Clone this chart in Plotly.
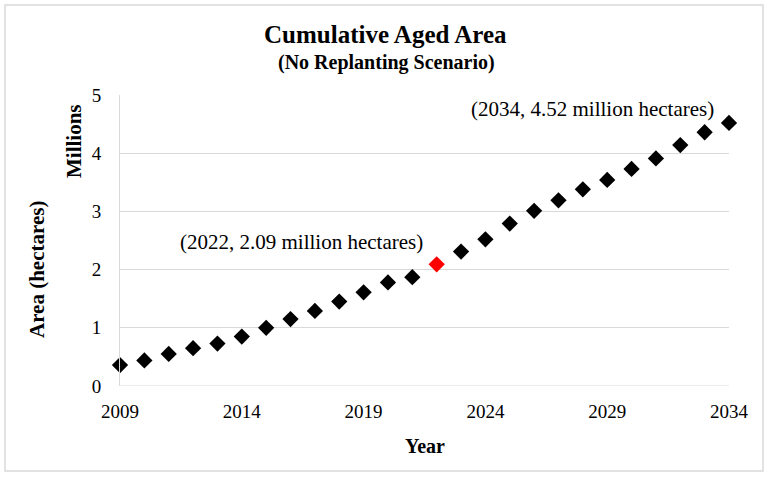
import plotly.graph_objects as go

years = list(range(2009, 2035))
area_millions = [0.36, 0.44, 0.55, 0.65, 0.73, 0.85, 1.00, 1.15, 1.29, 1.45, 1.61, 1.78, 1.87,
                 2.09, 2.31, 2.52, 2.79, 3.01, 3.19, 3.38, 3.54, 3.73, 3.91, 4.14, 4.36, 4.52]
highlight_year = 2022
x_ticks = [2009, 2014, 2019, 2024, 2029, 2034]
y_ticks = [0, 1, 2, 3, 4, 5]

FONT = "Palatino Linotype, Book Antiqua, Palatino, Liberation Serif, serif"
colors = ["#ff0000" if y == highlight_year else "#000000" for y in years]

W, H = 769, 478
L, R, T, B = 120, 40, 95, 92

fig = go.Figure()
fig.add_trace(go.Scatter(
    x=years, y=area_millions, mode="markers",
    marker=dict(symbol="diamond", size=12.5, color=colors, line=dict(width=0)),
    cliponaxis=False, showlegend=False,
))

pw = W - L - R
ph = H - T - B
def px(xp):
    return (xp - L) / pw
def py(yp):
    return (H - B - yp) / ph

fig.update_layout(
    width=W, height=H,
    margin=dict(l=L, r=R, t=T, b=B),
    plot_bgcolor="white", paper_bgcolor="white",
    font=dict(family=FONT, size=19, color="#000000"),
    xaxis=dict(range=[2009, 2034], tickvals=x_ticks, showgrid=False, zeroline=False,
               showline=False, ticks="", tickfont=dict(size=19), ticklabelstandoff=12),
    yaxis=dict(range=[0, 5], tickvals=y_ticks, showgrid=True, gridcolor="#d9d9d9", gridwidth=1,
               zeroline=False, showline=True, linecolor="#d9d9d9", linewidth=1,
               ticks="", tickfont=dict(size=19), ticklabelstandoff=14),
    shapes=[
        dict(type="line", xref="paper", yref="y", x0=0, x1=1, y0=0, y1=0,
             line=dict(color="#d9d9d9", width=1), layer="below"),
        dict(type="rect", xref="paper", yref="paper", x0=px(5), x1=px(763), y0=py(5), y1=py(471),
             line=dict(color="#d9d9d9", width=1.5), fillcolor="rgba(0,0,0,0)"),
    ],
    annotations=[
        dict(text="<b>Cumulative Aged Area</b>", xref="paper", yref="paper", x=px(385), y=py(34),
             showarrow=False, font=dict(size=25, family=FONT), xanchor="center", yanchor="middle"),
        dict(text="<b>(No Replanting Scenario)</b>", xref="paper", yref="paper", x=px(386), y=py(63),
             showarrow=False, font=dict(size=20, family=FONT), xanchor="center", yanchor="middle"),
        dict(text="<b>Year</b>", xref="paper", yref="paper", x=px(425), y=py(446),
             showarrow=False, font=dict(size=20, family=FONT), xanchor="center", yanchor="middle"),
        dict(text="<b>Area (hectares)</b>", xref="paper", yref="paper", x=px(37), y=py(270),
             showarrow=False, textangle=-90, font=dict(size=21, family=FONT), xanchor="center", yanchor="middle"),
        dict(text="<b>Millions</b>", xref="paper", yref="paper", x=px(74), y=py(141),
             showarrow=False, textangle=-90, font=dict(size=21, family=FONT), xanchor="center", yanchor="middle"),
        dict(text="(2022, 2.09 million hectares)", xref="paper", yref="paper", x=px(301), y=py(242),
             showarrow=False, font=dict(size=21, family=FONT), xanchor="center", yanchor="middle"),
        dict(text="(2034, 4.52 million hectares)", xref="paper", yref="paper", x=px(592), y=py(109),
             showarrow=False, font=dict(size=21, family=FONT), xanchor="center", yanchor="middle"),
    ],
)

fig.write_html("out.html", config={"displayModeBar": False},
               post_script="document.body.style.margin='0';document.body.style.overflow='hidden';")
